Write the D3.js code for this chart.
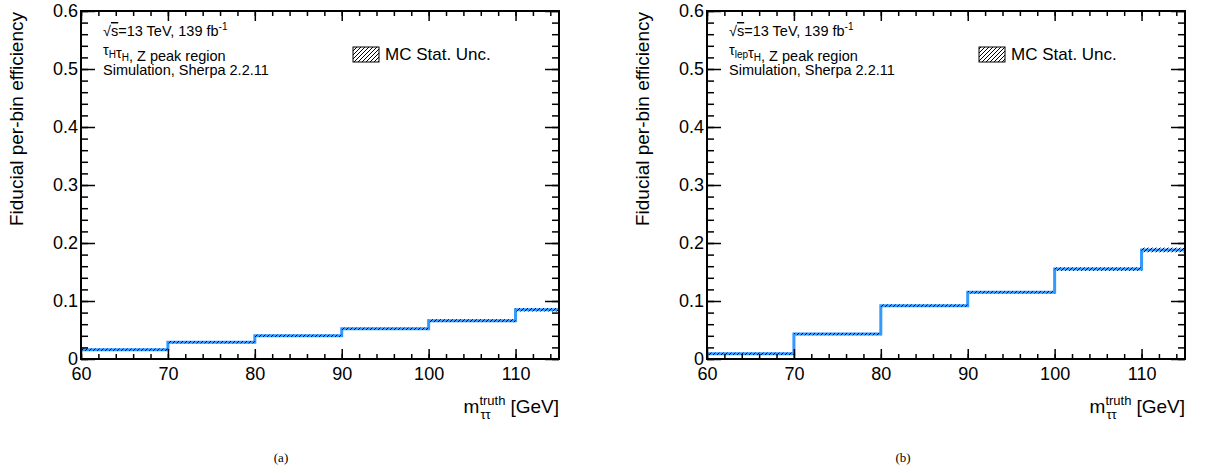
<!DOCTYPE html>
<html>
<head>
<meta charset="utf-8">
<script src="https://cdn.jsdelivr.net/npm/d3@7"></script>
<style>
  html, body { margin: 0; padding: 0; background: #fff; }
  svg { display: block; }
  text { font-family: "Liberation Sans", Arial, Helvetica, sans-serif; fill: #000; }
  text.caption { font-family: "Liberation Serif", "DejaVu Serif", serif; }
</style>
</head>
<body>
<svg id="fig" width="1208" height="473"></svg>
<script>
// Bin edges of the truth di-tau mass (GeV)
const binEdges = [60, 70, 80, 90, 100, 110, 115];

// Fiducial per-bin efficiency, tau_had tau_had channel
const effHadHad = [0.016, 0.029, 0.040, 0.052, 0.066, 0.085];
const uncHadHad = [0.002, 0.002, 0.002, 0.002, 0.0025, 0.003];

// Fiducial per-bin efficiency, tau_lep tau_had channel
const effLepHad = [0.009, 0.043, 0.092, 0.115, 0.155, 0.188];
const uncLepHad = [0.002, 0.002, 0.002, 0.002, 0.003, 0.004];

// Axis ticks
const xMajorTicks = [60, 70, 80, 90, 100, 110];
const xMinorTicks = d3.range(60, 115.001, 2);
const yMajorTicks = [0, 0.1, 0.2, 0.3, 0.4, 0.5, 0.6];
const yMinorTicks = d3.range(0, 0.6001, 0.02);

const svg = d3.select("#fig");
const lineColor = "#3399ff";

// Hatch pattern for the MC statistical uncertainty band
const defs = svg.append("defs");
const pat = defs.append("pattern")
  .attr("id", "hatch")
  .attr("patternUnits", "userSpaceOnUse")
  .attr("width", 4).attr("height", 4);
pat.append("path")
  .attr("d", "M0,4 L4,0 M-1,1 L1,-1 M3,5 L5,3")
  .attr("stroke", "#000").attr("stroke-width", 1);

function drawPanel(opts) {
  const { x0, x1, y0, y1, eff, unc, channel, caption, capX } = opts;
  const g = svg.append("g");

  const x = d3.scaleLinear().domain([60, 115]).range([x0, x1]);
  const y = d3.scaleLinear().domain([0, 0.6]).range([y1, y0]);

  const bins = eff.map((v, i) => ({ lo: binEdges[i], hi: binEdges[i + 1], v, e: unc[i] }));

  // Step histogram
  const pts = bins.map(b => [b.lo, b.v]);
  pts.push([binEdges[binEdges.length - 1], eff[eff.length - 1]]);
  const step = d3.line()
    .x(d => x(d[0])).y(d => y(d[1]))
    .curve(d3.curveStepAfter);
  g.append("path")
    .attr("d", step(pts))
    .attr("fill", "none")
    .attr("stroke", lineColor)
    .attr("stroke-width", 3);

  // Uncertainty band (hatched)
  g.selectAll("rect.band").data(bins).join("rect")
    .attr("class", "band")
    .attr("x", d => x(d.lo))
    .attr("width", d => x(d.hi) - x(d.lo))
    .attr("y", d => y(d.v + d.e))
    .attr("height", d => y(d.v - d.e) - y(d.v + d.e))
    .attr("fill", "url(#hatch)");

  const tickStyle = sel => {
    sel.select(".domain").remove();
    sel.selectAll(".tick line").attr("stroke", "#000").attr("stroke-width", 1.5);
  };

  // Bottom axis: major + minor, inward ticks
  g.append("g").attr("transform", `translate(0,${y1})`)
    .call(d3.axisBottom(x).tickValues(xMajorTicks).tickSize(-10).tickPadding(8).tickFormat(d3.format("d")))
    .call(tickStyle)
    .call(s => s.selectAll("text").attr("font-size", 18));
  g.append("g").attr("transform", `translate(0,${y1})`)
    .call(d3.axisBottom(x).tickValues(xMinorTicks).tickSize(-5).tickFormat(""))
    .call(tickStyle);
  // Top axis mirrored ticks
  g.append("g").attr("transform", `translate(0,${y0})`)
    .call(d3.axisTop(x).tickValues(xMajorTicks).tickSize(-10).tickFormat(""))
    .call(tickStyle);
  g.append("g").attr("transform", `translate(0,${y0})`)
    .call(d3.axisTop(x).tickValues(xMinorTicks).tickSize(-5).tickFormat(""))
    .call(tickStyle);

  // Left axis
  g.append("g").attr("transform", `translate(${x0},0)`)
    .call(d3.axisLeft(y).tickValues(yMajorTicks).tickSize(-14).tickPadding(3)
      .tickFormat(d => d === 0 ? "0" : d3.format(".1f")(d)))
    .call(tickStyle)
    .call(s => s.selectAll("text").attr("font-size", 18));
  g.append("g").attr("transform", `translate(${x0},0)`)
    .call(d3.axisLeft(y).tickValues(yMinorTicks).tickSize(-7).tickFormat(""))
    .call(tickStyle);
  // Right axis mirrored ticks
  g.append("g").attr("transform", `translate(${x1},0)`)
    .call(d3.axisRight(y).tickValues(yMajorTicks).tickSize(-14).tickFormat(""))
    .call(tickStyle);
  g.append("g").attr("transform", `translate(${x1},0)`)
    .call(d3.axisRight(y).tickValues(yMinorTicks).tickSize(-7).tickFormat(""))
    .call(tickStyle);

  // Frame
  g.append("rect")
    .attr("x", x0).attr("y", y0)
    .attr("width", x1 - x0).attr("height", y1 - y0)
    .attr("fill", "none").attr("stroke", "#000").attr("stroke-width", 2);

  // Y-axis title
  g.append("text")
    .attr("transform", `translate(${x0 - 58},${y0 + 1}) rotate(-90)`)
    .attr("text-anchor", "end")
    .attr("font-size", 19)
    .text("Fiducial per-bin efficiency");

  // X-axis title: m with sub/superscripts, then unit
  const xt = g.append("g");
  const unit = xt.append("text").attr("font-size", 19).attr("text-anchor", "end")
    .attr("x", x1).attr("y", 413).text("[GeV]");
  const sup = xt.append("text").attr("font-size", 13).attr("y", 405).text("truth");
  const sub = xt.append("text").attr("font-size", 13).attr("y", 419).text("ττ");
  const uw = unit.node().getComputedTextLength();
  const sw = Math.max(sup.node().getComputedTextLength(), sub.node().getComputedTextLength());
  const scriptX = x1 - uw - 5 - sw;
  sup.attr("x", scriptX);
  sub.attr("x", scriptX + 1);
  xt.append("text").attr("font-size", 19).attr("text-anchor", "end")
    .attr("x", scriptX).attr("y", 413).text("m");

  // Info text block
  const tx = x0 + 22;
  const t1 = g.append("text").attr("x", tx).attr("y", 36).attr("font-size", 14.5);
  t1.append("tspan").text("√");
  t1.append("tspan").attr("text-decoration", "overline").text("s");
  t1.append("tspan").text("=13 TeV, 139 fb");
  t1.append("tspan").attr("font-size", 10).attr("dy", -6).text("-1");

  const t2 = g.append("text").attr("x", tx).attr("y", 55).attr("font-size", 14.5);
  channel.forEach(part => {
    if (part.sub) {
      t2.append("tspan").attr("font-size", 10).attr("dy", 3).text(part.sub);
      t2.append("tspan").attr("dy", -3).text("");
    } else {
      t2.append("tspan").text(part.t);
    }
  });

  g.append("text").attr("x", tx).attr("y", 75).attr("font-size", 14.5)
    .text("Simulation, Sherpa 2.2.11");

  // Legend
  g.append("rect")
    .attr("x", x0 + 272).attr("y", 47).attr("width", 26).attr("height", 15)
    .attr("fill", "url(#hatch)").attr("stroke", "#000").attr("stroke-width", 1);
  g.append("text").attr("x", x0 + 304).attr("y", 60).attr("font-size", 17)
    .text("MC Stat. Unc.");

  // Sub-figure caption
  svg.append("text").attr("class", "caption")
    .attr("x", capX).attr("y", 462)
    .attr("text-anchor", "middle")
    .attr("font-size", 13)
    .text(caption);
}

drawPanel({
  x0: 81, x1: 559, y0: 11, y1: 359,
  eff: effHadHad, unc: uncHadHad,
  channel: [{ t: "τ" }, { sub: "H" }, { t: "τ" }, { sub: "H" }, { t: ", Z peak region" }],
  caption: "(a)", capX: 281
});

drawPanel({
  x0: 707, x1: 1185, y0: 11, y1: 359,
  eff: effLepHad, unc: uncLepHad,
  channel: [{ t: "τ" }, { sub: "lep" }, { t: "τ" }, { sub: "H" }, { t: ", Z peak region" }],
  caption: "(b)", capX: 903
});
</script>
</body>
</html>
